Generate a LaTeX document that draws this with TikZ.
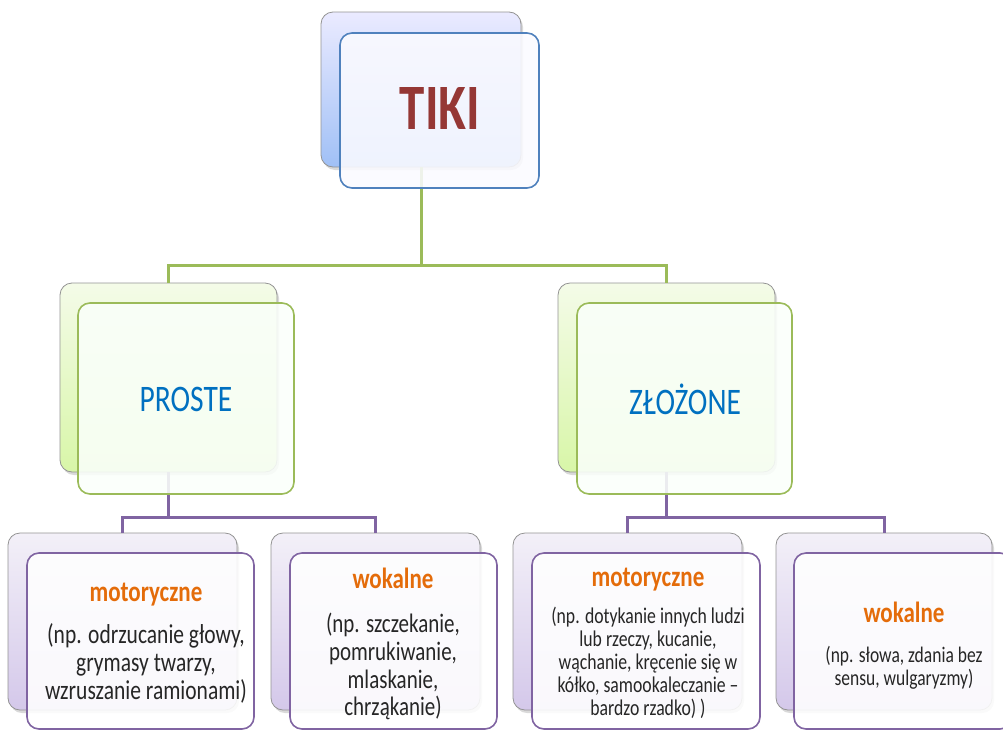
\documentclass[tikz,border=0pt]{standalone}
\usepackage{fontspec}
\setmainfont{Carlito}
\usepackage{graphicx}
\usetikzlibrary{shadows,positioning}
\definecolor{tikired}{HTML}{953735}
\definecolor{catblue}{HTML}{0070C0}
\definecolor{typeorange}{HTML}{E46C0A}
\definecolor{bodygray}{HTML}{262626}
\definecolor{lineblue}{HTML}{4F81BD}
\definecolor{linegreen}{HTML}{9BBB59}
\definecolor{linepurple}{HTML}{8064A2}
\newcommand{\tall}[1]{\scalebox{1}[1.27]{#1}}
\newcommand{\ttl}[1]{{\fontsize{23}{23}\selectfont\bfseries\color{typeorange}#1}}
\tikzset {
  x=1pt, y=-1pt,
  box/.style={rounded corners=12pt, inner sep=0pt, outer sep=0pt},
  back/.style={box, draw=gray!85, line width=0.8pt,
    drop shadow={shadow xshift=2pt, shadow yshift=-3pt, opacity=.3}},
  front/.style={box, line width=1.6pt, fill opacity=.88},
  backblue/.style={back, top color=blue!8!white, bottom color={rgb,255:red,160;green,192;blue,246}},
  backgreen/.style={back, top color={rgb,255:red,244;green,251;blue,232}, bottom color={rgb,255:red,216;green,246;blue,168}},
  backpurple/.style={back, top color={rgb,255:red,243;green,240;blue,248}, bottom color={rgb,255:red,212;green,200;blue,234}},
  gline/.style={draw=linegreen, line width=3pt},
  pline/.style={draw=linepurple, line width=3pt},
  txt/.style={inner sep=0pt, align=center, text=bodygray},
}

\begin{document}
\begin{tikzpicture}
  \useasboundingbox (0,0) rectangle (1003,731);
  \clip (0,0) rectangle (1003,731);

  \node[backblue, minimum width=200, minimum height=155] (tikiB) at (421,89.5) {};
  \node[backgreen, minimum width=217, minimum height=189] (prosteB) at (168.5,377.5) {};
  \node[backgreen, minimum width=217, minimum height=189] (zlozoneB) at (666.5,377.5) {};
  \node[backpurple, minimum width=229, minimum height=177] (motLB) at (122.5,621.5) {};
  \node[backpurple, minimum width=209, minimum height=177] (wokLB) at (375.5,621.5) {};
  \node[backpurple, minimum width=229, minimum height=177] (motRB) at (627.5,621.5) {};
  \node[backpurple, minimum width=216, minimum height=177] (wokRB) at (884,621.5) {};

  \draw[gline] (tikiB.south) -- (tikiB.south |- 0,265) coordinate (tj);
  \draw[gline] (prosteB.north) |- (tj) -| (zlozoneB.north);
  \draw[pline] (prosteB.south) -- (prosteB.south |- 0,517) coordinate (lj);
  \draw[pline] (motLB.north) |- (lj) -| (wokLB.north);
  \draw[pline] (zlozoneB.south) -- (zlozoneB.south |- 0,517) coordinate (rj);
  \draw[pline] (motRB.north) |- (rj) -| (wokRB.north);

  \node[front, draw=lineblue, fill=blue!2!white, minimum width=199, minimum height=155] (tikiF) at (439.5,110.5) {};
  \node[front, draw=linegreen, fill=green!2!white, minimum width=216, minimum height=191] (prosteF) at (186,398.5) {};
  \node[front, draw=linegreen, fill=green!2!white, minimum width=215, minimum height=191] (zlozoneF) at (684.5,398.5) {};
  \node[front, draw=linepurple, fill=white, minimum width=227, minimum height=176] (motLF) at (140.5,641) {};
  \node[front, draw=linepurple, fill=white, minimum width=207, minimum height=176] (wokLF) at (393.5,641) {};
  \node[front, draw=linepurple, fill=white, minimum width=228, minimum height=176] (motRF) at (646,641) {};
  \node[front, draw=linepurple, fill=white, minimum width=218, minimum height=176] (wokRF) at (903,641) {};

  \node[txt, text=tikired, font=\fontsize{51}{51}\selectfont\bfseries] (tiki) at (440,108) {\tall{TIKI}};
  \node[txt, text=catblue, font=\fontsize{29.5}{30}\selectfont] (proste) at (186,399) {\tall{PROSTE}};
  \node[txt, text=catblue, font=\fontsize{29.5}{30}\selectfont] (zlozone) at (685,399) {\tall{ZŁOŻONE}};

  \node[txt, font=\fontsize{21.5}{22}\selectfont] (motL) at (146,645) {\tall{\begin{tabular}{@{}c@{}}
    \ttl{motoryczne}\\[11pt]
    (np. odrzucanie głowy,\\ grymasy twarzy,\\ wzruszanie ramionami)
  \end{tabular}}};
  \node[txt, font=\fontsize{21}{21.8}\selectfont] (wokL) at (393,646) {\tall{\begin{tabular}{@{}c@{}}
    \ttl{wokalne}\\[13pt]
    (np. szczekanie,\\ pomrukiwanie,\\ mlaskanie,\\ chrząkanie)
  \end{tabular}}};
  \node[txt, font=\fontsize{17.7}{18}\selectfont] (motR) at (648,645) {\tall{\begin{tabular}{@{}c@{}}
    \ttl{motoryczne}\\[11pt]
    (np. dotykanie innych ludzi\\ lub rzeczy, kucanie,\\ wąchanie, kręcenie się w\\ kółko, samookaleczanie --\\ bardzo rzadko) )
  \end{tabular}}};
  \node[txt, font=\fontsize{17.5}{18}\selectfont] (wokR) at (904,647) {\tall{\begin{tabular}{@{}c@{}}
    \ttl{wokalne}\\[13pt]
    (np. słowa, zdania bez\\ sensu, wulgaryzmy)
  \end{tabular}}};
\end{tikzpicture}
\end{document}
